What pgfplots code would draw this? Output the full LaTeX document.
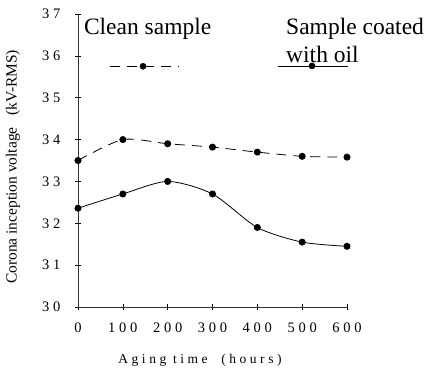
\documentclass[border=0pt]{standalone}
\usepackage{fontspec}
\setmainfont{Liberation Serif}
\newfontfamily\spaced[LetterSpace=26]{Liberation Serif}
\usepackage{pgfplots}
\pgfplotsset{compat=1.18}
\begin{document}
\begin{tikzpicture}
\begin{axis}[
  scale only axis, width=269bp, height=293bp,
  xmin=0, xmax=600, ymin=30, ymax=37,
  axis lines=left,
  axis line style={-, line width=0.8pt, black!80},
  xtick={0,100,...,600}, ytick={30,31,...,37},
  tick align=center, major tick length=6bp,
  tick style={black, line width=0.6pt},
  ticklabel style={font=\fontsize{14.5bp}{16bp}\spaced},
  /pgf/number format/assume math mode=true,
  xticklabel style={yshift=-9bp},
  yticklabel style={xshift=-11bp},
  xlabel={Aging time \ (hours)},
  xlabel style={font=\fontsize{13.5bp}{15bp}\spaced, at={(axis description cs:0.4535,-0.183)}, anchor=center},
  ylabel={Corona inception voltage \ \ (kV-RMS)},
  ylabel style={font=\fontsize{15.5bp}{17bp}\selectfont, at={(axis description cs:-0.242,0.478)}, anchor=center},
  clip=false,
]
% Clean sample (dashed)
\addplot[black, line width=0.8pt, dash pattern=on 10bp off 7bp, smooth, tension=0.45,
  mark=*, mark size=3.1pt, mark options={solid}]
  coordinates {(0,33.5) (100,34.0) (200,33.9) (300,33.82) (400,33.70) (500,33.6) (600,33.58)};
% Sample coated with oil (solid)
\addplot[black, line width=0.8pt, smooth, tension=0.45, mark=*, mark size=3.1pt]
  coordinates {(0,32.36) (100,32.7) (200,33.0) (300,32.7) (400,31.9) (500,31.55) (600,31.45)};
% legend samples
\addplot[black, line width=0.8pt, dash pattern=on 10bp off 7bp] coordinates {(71,35.75) (223,35.75)};
\addplot[black, only marks, mark=*, mark size=3.1pt] coordinates {(145,35.75)};
\addplot[black, line width=0.8pt] coordinates {(446,35.76) (603,35.76)};
\addplot[black, only marks, mark=*, mark size=3.1pt] coordinates {(522,35.76)};
\node[anchor=base west, inner sep=0pt, font=\fontsize{23.5bp}{26bp}\selectfont] at (axis cs:13,36.52) {Clean sample};
\node[anchor=base west, inner sep=0pt, font=\fontsize{23.5bp}{26bp}\selectfont] at (axis cs:464,36.5) {Sample coated};
\node[anchor=base west, inner sep=0pt, font=\fontsize{23.5bp}{26bp}\selectfont] at (axis cs:464,35.85) {with oil};
\end{axis}
\pgfresetboundingbox
\path (-78bp,-61bp) rectangle (349bp,307bp);
\end{tikzpicture}
\end{document}
